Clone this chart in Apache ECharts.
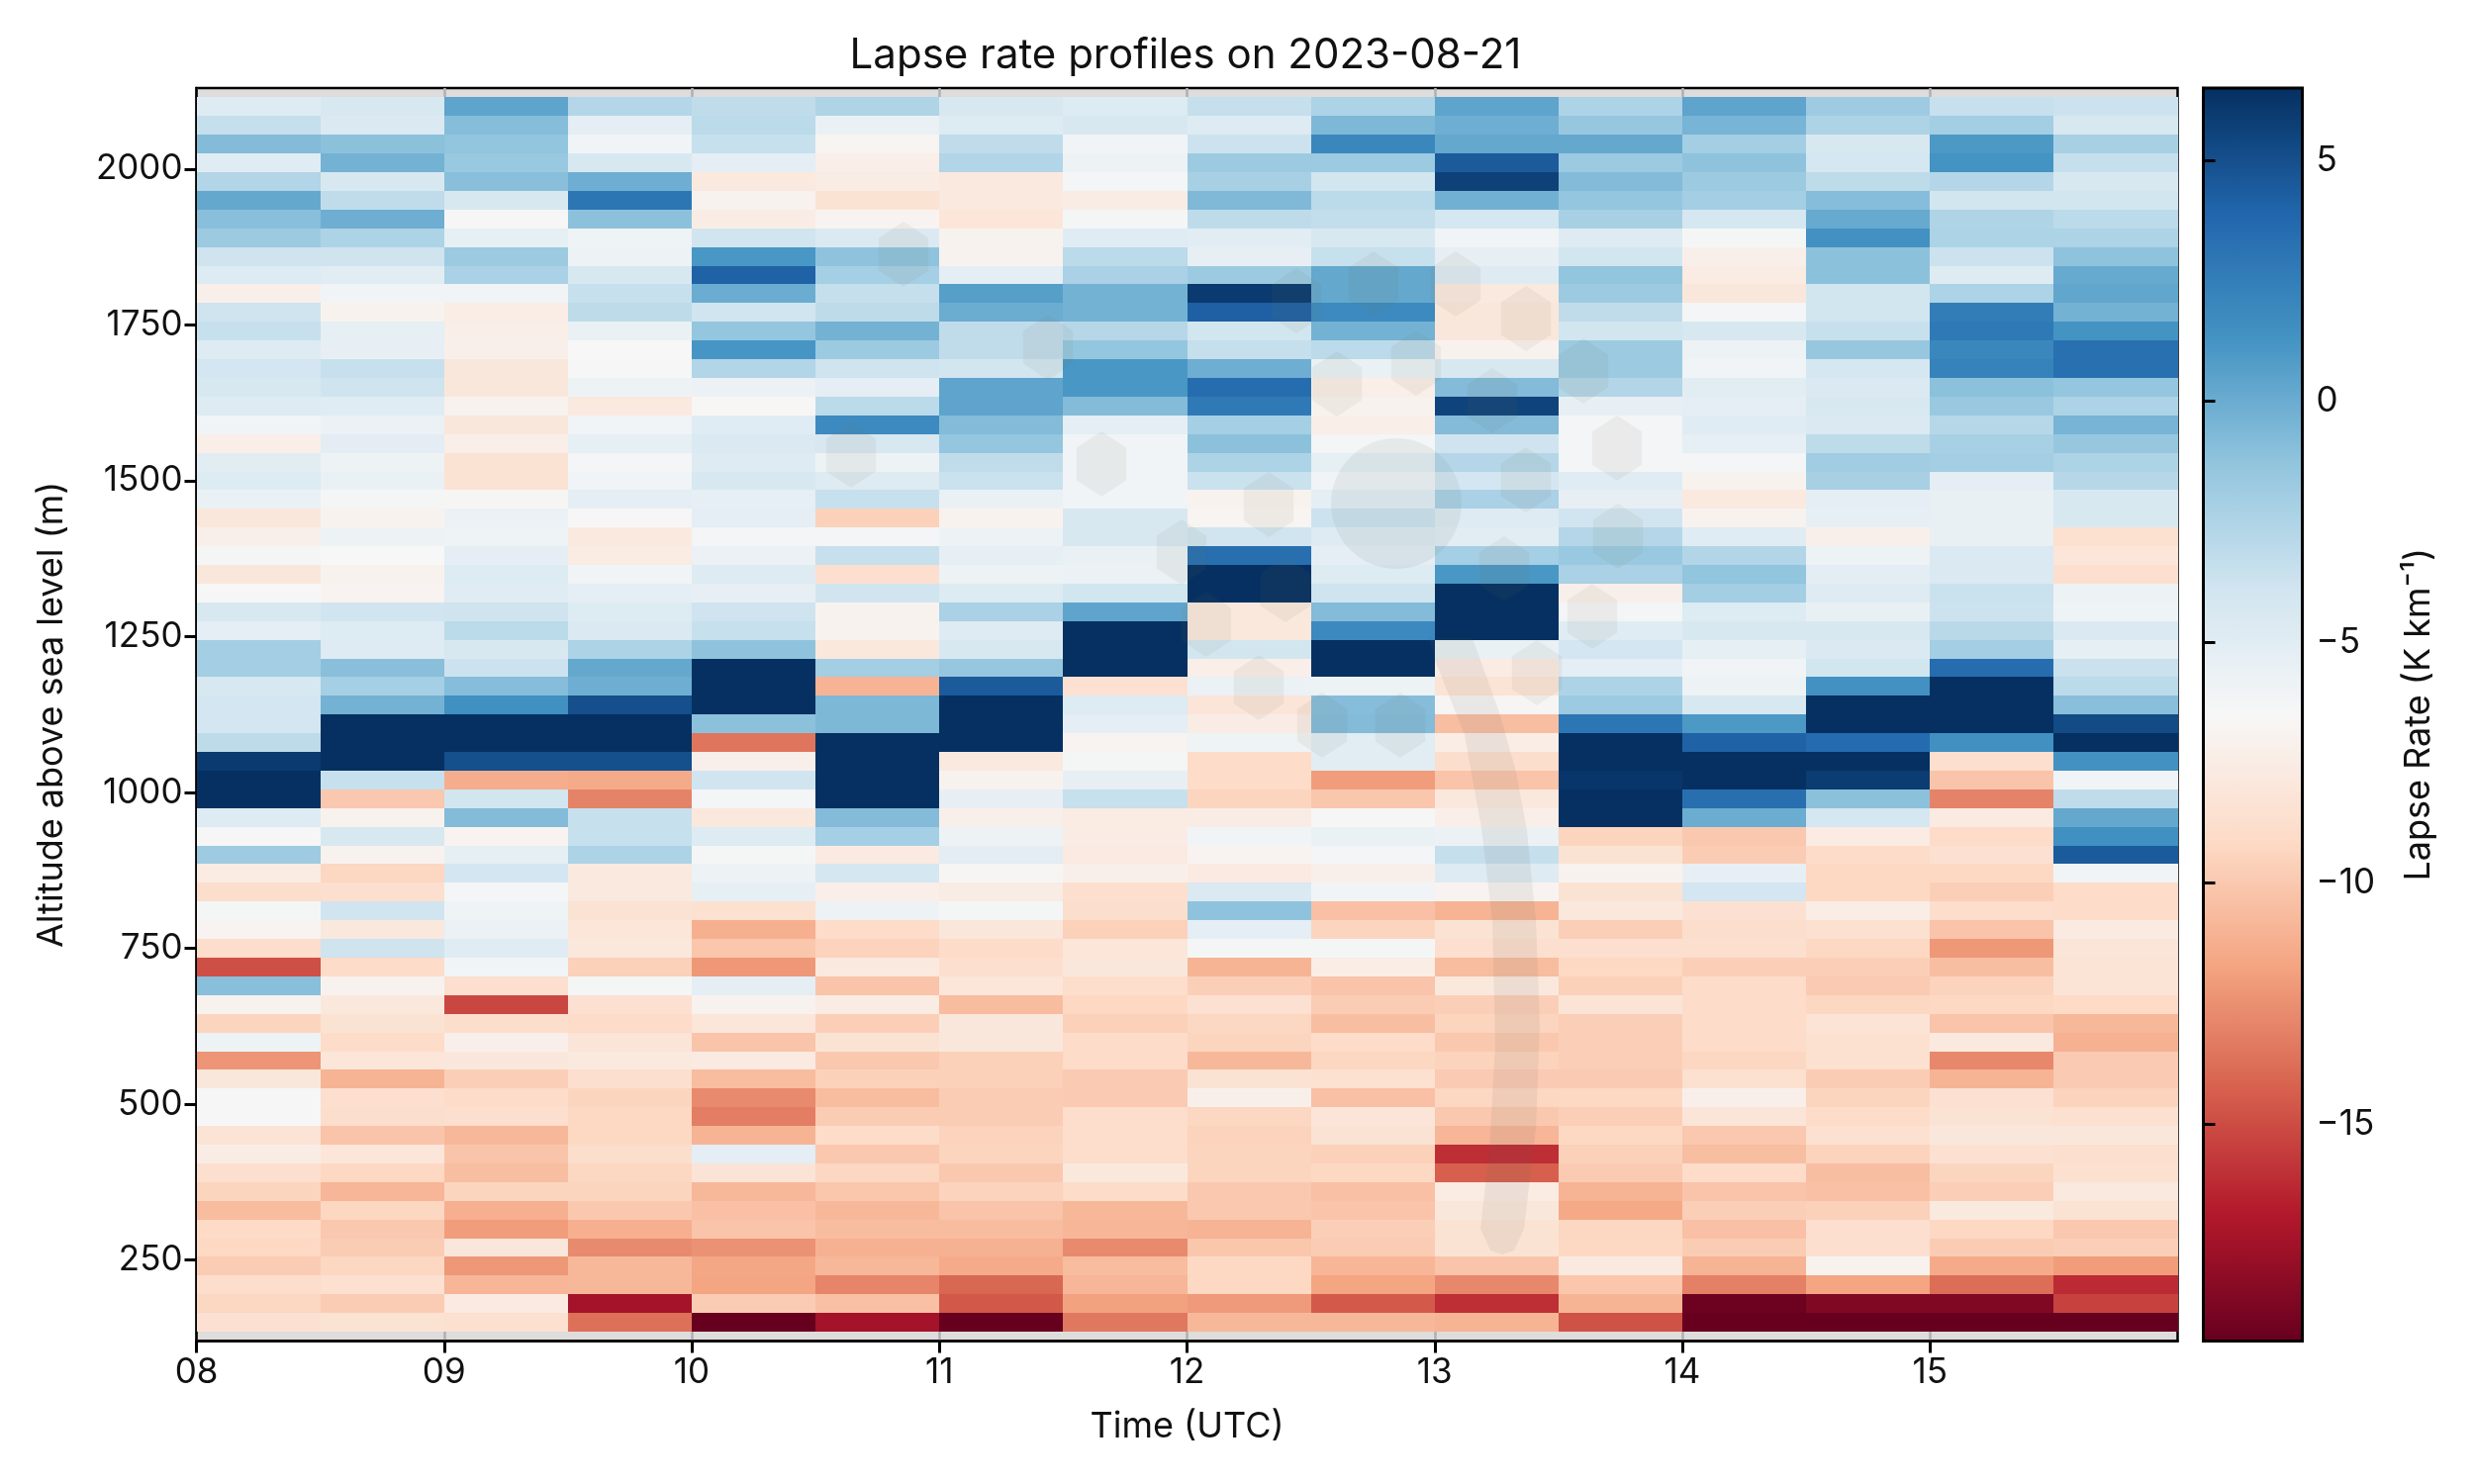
<!DOCTYPE html>
<html>
<head>
<meta charset="utf-8">
<style>html,body{margin:0;padding:0;background:#fff}#chart{width:2500px;height:1500px}</style>
<script src="https://cdn.jsdelivr.net/npm/echarts@6/dist/echarts.min.js"></script>
</head>
<body>
<div id="chart"></div>
<script>
const titleText = 'Lapse rate profiles on 2023-08-21';
const timeLabel = 'Time (UTC)';
const altitudeLabel = 'Altitude above sea level (m)';
const colorbarLabel = 'Lapse Rate (K km\u207B\u00B9)';
const timeStarts = [8,8.5,9,9.5,10,10.5,11,11.5,12,12.5,13,13.5,14,14.5,15,15.5];
const timeTicks = [8,9,10,11,12,13,14,15];
const altitudeTicks = [250,500,750,1000,1250,1500,1750,2000];
const colorbarTicks = [-15,-10,-5,0,5];
// RdBu palette, low to high
const palette = ['#67001f','#b2182b','#d6604d','#f4a582','#fddbc7','#f7f7f7','#d1e5f0','#92c5de','#4393c3','#2166ac','#053061'];
const valueMin = -19.5, valueMax = 6.5;
// altitude of each row's centre, top row first
const altitudes = [2100,2070,2040,2010,1980,1950,1920,1890,1860,1830,1800,1770,1740,1710,1680,1650,1620,1590,1560,1530,1500,1470,1440,1410,1380,1350,1320,1290,1260,1230,1200,1170,1140,1110,1080,1050,1020,990,960,930,900,870,840,810,780,750,720,690,660,630,600,570,540,510,480,450,420,390,360,330,300,270,240,210,180,150];
// lapse rate (K/km): one row per altitude, one value per half hour
const lapseRate = [
[-4.8,-4.4,0.4,-2.7,-3.2,-2.5,-4.4,-4.7,-3.4,-2.4,0.4,-2.4,0.4,-1.8,-3.5,-3.7],
[-3.4,-4.5,-0.9,-5.2,-3.0,-5.6,-4.7,-4.4,-4.8,-0.6,-0.1,-1.5,-0.4,-2.4,-2,-4.3],
[-0.8,-1.1,-1.3,-6.0,-3.5,-6.8,-3.2,-6.0,-3.7,2,0.2,0.2,-2,-4.4,1,-2.2],
[-4.9,-0.3,-1.6,-4.3,-5.2,-7.3,-2.6,-5.8,-1.7,-1.7,4.5,-1.7,-1.2,-4.2,1.3,-3.4],
[-2.6,-4.3,-1.0,-0.1,-7.8,-7.5,-7.8,-6.2,-2.2,-4,5.7,-0.8,-1.7,-3.1,-2.7,-4.3],
[0.2,-3.2,-4.3,3,-7,-8.4,-7.8,-7.5,-0.7,-3,-0.2,-1.4,-2,-0.9,-4,-4],
[-1,-0.1,-6.4,-1.1,-7.5,-6.9,-8.1,-6.3,-3.1,-3.3,-4.2,-2.2,-4.2,0.1,-2.5,-3],
[-1.7,-2.4,-5.3,-5.9,-3.9,-4.6,-7,-4.9,-5,-4.3,-6,-4.8,-6.3,1.4,-2.4,-2.4],
[-3.8,-3.8,-1.7,-5.8,1.1,-1.2,-7,-3,-5.4,-3.5,-5.4,-4,-7.2,-1.1,-3.7,-1.2],
[-4.7,-5,-2.3,-4.3,4.1,-2.1,-5.2,-2.3,-1.7,0.2,-4.8,-1.3,-7.6,-1.1,-4.8,0.1],
[-7.2,-6,-6.1,-3.5,0,-3.4,0.7,-0.3,6,0.2,-7.8,-1.7,-8,-4,-2.4,0.3],
[-3.8,-7,-7.4,-3.1,-3.9,-3.1,0,-0.3,4.2,1.8,-8,-3.2,-6.2,-4,2.6,-0.3],
[-3.5,-5.3,-7.3,-5.6,-1.4,-0.3,-3.2,-2.8,-4,-0.3,-8,-4,-4.4,-3.5,2.8,1.3],
[-4.8,-5.4,-7.2,-6.5,1.2,-1.7,-3.2,-1.4,-3.4,-3,-7,-1.7,-5.8,-1.5,2,3.3],
[-4.1,-3.5,-8,-6.4,-2.6,-3.8,-4,1.1,-0.1,-5.6,-4.4,-1.7,-6,-4.2,2.3,3.3],
[-4.4,-3.8,-8,-5.8,-5.7,-5.2,0.4,1.1,3.5,-7.3,-0.8,-2.6,-5,-4.6,-1.1,-1.4],
[-4.7,-4.9,-7,-7.8,-6.6,-3,0.4,-0.8,2.8,-7,5.6,-5.4,-5.2,-4.4,-1.6,-2.4],
[-6.1,-5.7,-8,-6,-4.9,1.8,-0.8,-5.2,-2.1,-7.3,-0.8,-6.2,-4.9,-4.5,-2.8,-0.4],
[-7.3,-5.1,-7.3,-5.3,-4.5,-4.3,-1.4,-6,-1.1,-6.2,-3.8,-6.2,-5.3,-3.1,-2.2,-1.5],
[-5,-5.8,-8.4,-6.2,-4.8,-5.8,-3.2,-6,-2.4,-5.3,-2.7,-6.2,-6.2,-1.9,-2,-2.4],
[-4.7,-5.6,-8.4,-6,-4.3,-4.8,-3.6,-6,-3.6,-6,-4.1,-4.9,-7,-2.2,-5.2,-2.8],
[-5.6,-6.3,-6.7,-5.2,-5.3,-3.5,-5.6,-6,-7,-5.2,-2.3,-5.4,-7.8,-5.2,-5.5,-4.4],
[-8,-7,-5.7,-6.4,-5.2,-9.6,-7,-4.4,-6.8,-3.7,-4.8,-3.9,-7,-5.3,-5.5,-4.4],
[-7.2,-5.8,-5.9,-7.8,-6.2,-6.2,-5.8,-4.4,-3.9,-4.8,-5,-2.7,-4.9,-7.2,-5.5,-8.6],
[-6.3,-6.5,-5.2,-7.6,-5.7,-3.5,-5.3,-5.6,3.4,-5.2,-2.1,-1.6,-2.6,-5.8,-4.5,-8.1],
[-8,-7,-4.7,-6.1,-4.8,-8.7,-5.8,-5.7,6.5,-4.7,1.1,-2.3,-1.3,-5.1,-4.5,-8.7],
[-6.4,-6.9,-4.9,-5.2,-5.4,-3.9,-4.7,-4,6.5,-3.8,6.5,-7.2,-2,-4.8,-3.6,-5.8],
[-4.4,-3.9,-3.8,-4.7,-3.8,-7,-2.3,0.4,-7.9,-0.8,6.5,-6.2,-4.7,-5.5,-3.7,-5.9],
[-5.2,-4.7,-3,-4.5,-3.5,-7,-4.8,6.5,-7.9,1.9,6.5,-4.9,-4.3,-4.3,-2.9,-4.6],
[-2,-4.8,-4.4,-2.4,-1.2,-7.9,-4.4,6.5,-4,6.5,-5.6,-4.1,-5.3,-4.6,-2,-5.3],
[-2,-1,-3.7,0.2,6.5,-2,-1.5,6.5,-7.3,6.5,-7.6,-5.2,-6,-4,3.5,-3.6],
[-4.3,-2.1,-0.9,-0.1,6.5,-11,4.5,-8.5,-5.7,-5.8,-8.3,-2.4,-5.8,1.4,6.5,-3],
[-4.1,-0.3,1.5,5,6.5,-0.6,6.5,-4.7,-8.2,-0.9,-6.7,-1.7,-4.3,6.5,6.5,-1],
[-4.1,6.5,6.5,6.5,-1.1,-0.6,6.5,-5.2,-7.5,-0.8,-10.5,3,1,6.5,6.5,5.2],
[-3.1,6.5,6.5,6.5,-13.5,6.5,6.5,-6.9,-5.9,-5,-7.4,6.5,4.1,3.6,1.5,6.5],
[6,6.5,5,5,-7.2,6.5,-7.8,-6.3,-9,-5,-8.8,6.5,6.5,6.5,-8.7,1.4],
[6.5,-3.5,-11.3,-11.4,-3.9,6.5,-7,-5.4,-9,-12,-10.2,6.2,6.5,5.9,-10.2,-6],
[6.5,-10,-4,-13,-6.2,6.5,-5.4,-3.5,-9.4,-10.1,-7.9,6.5,3.4,-1.1,-13,-3.2],
[-4.7,-7,-0.8,-3.5,-7.9,-0.8,-7.2,-7.6,-7.5,-6.4,-7.3,6.5,0,-4.2,-7.7,0.2],
[-6.4,-4.4,-6.9,-3.5,-4.7,-2.1,-5.8,-7.5,-6.1,-5.6,-5.7,-9.4,-10,-7.6,-9,1.5],
[-1.8,-7,-5.3,-2.4,-6.3,-7.7,-5.1,-7.7,-6.9,-6.2,-3.4,-8.4,-9.8,-9,-8.5,4.5],
[-7.6,-9.3,-4.1,-7.8,-5.8,-4.2,-6.7,-7.2,-7.7,-7.2,-4.8,-7,-5.4,-9.2,-9.2,-6],
[-8.8,-8.7,-6.2,-7.8,-5.3,-7.3,-7.5,-8.7,-4.5,-6,-6.9,-8.4,-4.1,-9.2,-9.7,-9],
[-6.3,-3.9,-5.9,-8.4,-8.6,-5.8,-6.3,-8.8,-1.2,-10.4,-11,-7.9,-8.5,-7.4,-8.9,-9],
[-6.9,-7.9,-5.7,-8.1,-11.2,-9,-8,-9.6,-5.2,-9.4,-8.4,-9.7,-8.8,-8.6,-10.2,-7.7],
[-8.9,-3.8,-4.9,-7.9,-10.1,-9.5,-9,-8.1,-6.3,-6.3,-8.7,-8.7,-8.7,-9.2,-12.2,-8.2],
[-14.9,-9,-6.1,-9.6,-12.2,-7.8,-8.7,-8,-11,-7.4,-10.6,-9.2,-9.7,-9.7,-10.5,-8.3],
[-1,-7,-8.7,-6.3,-5.2,-10.2,-8.1,-8.9,-9.7,-10.2,-7.9,-9.6,-9,-9.9,-9.5,-8.3],
[-7,-7.9,-15.2,-8.5,-7,-7.6,-10.6,-9.2,-8.5,-9.8,-9.7,-8.3,-9,-9.3,-9.2,-9.1],
[-9.4,-8.4,-8.8,-9,-8.1,-9.7,-8,-9.6,-9.3,-10.5,-9.4,-9.7,-9,-8.3,-10.2,-10.8],
[-5.8,-9,-7.2,-8.2,-10.2,-8.4,-8,-9,-9.4,-9,-10,-9.7,-9,-8.6,-7.8,-11.1],
[-12.3,-8.1,-8,-7.8,-7.7,-10,-9.6,-9,-10.8,-9.3,-9.5,-9.7,-9.3,-8.6,-12.8,-9.9],
[-8,-11,-9.7,-8.7,-10.6,-9.6,-9.6,-9.9,-8.4,-8.6,-9.9,-9.9,-8.6,-9.8,-11,-9.9],
[-6.4,-8.7,-9,-9.4,-12.7,-10.6,-9.8,-9.9,-7.2,-10.4,-9.3,-9.2,-7.2,-9.4,-8.5,-9.5],
[-6.4,-8.8,-8.7,-9.2,-13.2,-9.8,-9.8,-8.9,-9.3,-8.2,-10,-9.7,-8.2,-9,-8.4,-8.6],
[-8.3,-10.2,-10.8,-9.2,-11,-9,-9.5,-8.9,-9.5,-8.4,-10.9,-9.2,-10,-8.6,-8,-8],
[-7.5,-8.1,-10.2,-8.8,-5.2,-10,-9.4,-8.9,-9.4,-9.6,-16.1,-9.6,-10.5,-9.5,-8.5,-8.7],
[-8.7,-9.2,-10.5,-9.3,-8.3,-9.3,-10,-7.9,-9.4,-9.2,-14.3,-9.9,-9,-10.5,-9.4,-8.6],
[-9.4,-10.9,-9.4,-9.4,-10.8,-10.1,-9.5,-9,-10,-10.4,-7.6,-11,-10.2,-10.4,-9.7,-7.8],
[-10.6,-9.3,-11.2,-10,-10.4,-10.8,-10.2,-10.8,-10,-10.2,-8,-11.5,-9.7,-9.6,-7.8,-8.4],
[-9.1,-10,-12,-11.2,-10.2,-10.6,-10.6,-10.9,-11,-9.7,-8.4,-9.3,-10.4,-8.7,-9.2,-10],
[-9.2,-9.8,-8,-12.7,-12.4,-11.1,-11.1,-12.7,-10.1,-9.8,-8.4,-9.2,-9.8,-8.7,-9.8,-9.7],
[-9.8,-9.3,-12.2,-10.8,-11.6,-10.8,-11.4,-10.6,-9.2,-10.9,-10.2,-7.8,-11,-7,-11.4,-12],
[-8.9,-8.6,-10.9,-10.8,-11.7,-12.9,-14,-10.9,-9.2,-11.7,-12.8,-10.1,-13.1,-11.7,-13.8,-16.2],
[-9.3,-9.8,-7.7,-17.4,-9.8,-10.4,-14.6,-11.8,-12.1,-14.5,-16.1,-11,-19.3,-18.6,-18.6,-15.4],
[-8.5,-8.4,-8.6,-13.7,-19.5,-17.4,-19.5,-13.4,-10.8,-10.8,-11,-14.8,-19.5,-19.5,-19.5,-19.5]
];
const cells = [];
altitudes.forEach((alt, r) => timeStarts.forEach((t, c) => cells.push([t, alt, lapseRate[r][c]])));

// faint hexagon-and-stroke watermark lying over the plot
const hexCentres = [[913,257],[1059,351],[860,460],[1113,469],[1194,558],[1282,510],[1219,631],[1272,695],[1336,733],[1415,733],[1310,304],[1388,287],[1471,287],[1542,322],[1431,367],[1351,388],[1600,375],[1508,405],[1634,453],[1542,485],[1635,542],[1520,575],[1299,596],[1609,623],[1553,680]];
const hexR = 33;
function hexPoints(c){
  const pts = [];
  for (let i = 0; i < 6; i++) { const a = Math.PI/3*i - Math.PI/2; pts.push([c[0] + hexR*0.88*Math.cos(a), c[1] + hexR*Math.sin(a)]); }
  return pts;
}
const strokeOutline = [[1444,645],[1488,645],[1515,720],[1532,780],[1543,840],[1552,930],[1556,1036],[1552,1141],[1540,1242],[1530,1264],[1518,1268],[1506,1264],[1496,1242],[1505,1162],[1511,1057],[1508,930],[1497,837],[1480,743],[1450,667]];
const watermark = hexCentres.map(c => ({type:'polygon', z:50, silent:true, shape:{points:hexPoints(c)}, style:{fill:'rgba(110,115,90,0.08)'}}));
watermark.push({type:'circle', z:50, silent:true, shape:{cx:1411,cy:509,r:66}, style:{fill:'rgba(110,125,125,0.10)'}});
watermark.push({type:'polygon', z:50, silent:true, shape:{points:strokeOutline}, style:{fill:'rgba(105,105,90,0.09)'}});

const fontFamily = 'Inter';
const ink = '#111';
const tickFont = 35, nameFont = 36;
const chart = echarts.init(document.getElementById('chart'), null, {width:2500, height:1500, renderer:'canvas'});
chart.setOption({
  animation:false,
  backgroundColor:'#fff',
  textStyle:{fontFamily:fontFamily},
  title:{text:titleText, left:1193, top:30, textAlign:'center', textStyle:{fontFamily:fontFamily,fontSize:42,fontWeight:'normal',color:ink}},
  grid:[
    {left:198.5, top:89, width:2002, height:1266.5, show:true, backgroundColor:'#dfdcdc', borderColor:'#000', borderWidth:2.5, z:0, containLabel:false},
    {left:2226.5, top:89, width:100, height:1266.5, show:true, backgroundColor:'transparent', borderColor:'#000', borderWidth:3, z:20, containLabel:false}
  ],
  xAxis:[
    {type:'value', gridIndex:0, min:8, max:16, name:timeLabel, nameLocation:'middle', nameGap:69,
     nameTextStyle:{fontFamily:fontFamily,fontSize:nameFont,color:ink},
     axisLine:{show:true,onZero:false,lineStyle:{color:'#000',width:2.5}},
     axisTick:{show:true,length:12,customValues:timeTicks,lineStyle:{color:'#000',width:3}},
     axisLabel:{show:true,margin:14,fontSize:tickFont,color:ink,fontFamily:fontFamily,customValues:timeTicks,formatter:v=>String(v).padStart(2,'0')},
     splitLine:{show:true,lineStyle:{color:'#b0b0b0',width:2.5}}},
    {type:'value', gridIndex:1, min:0, max:1, show:false}
  ],
  yAxis:[
    {type:'value', gridIndex:0, min:120, max:2130, name:altitudeLabel, nameLocation:'middle', nameGap:128, nameRotate:90,
     nameTextStyle:{fontFamily:fontFamily,fontSize:nameFont,color:ink},
     axisLine:{show:true,onZero:false,lineStyle:{color:'#000',width:2.5}},
     axisTick:{show:true,length:12,customValues:altitudeTicks,lineStyle:{color:'#000',width:3}},
     axisLabel:{show:true,margin:14,fontSize:tickFont,color:ink,fontFamily:fontFamily,customValues:altitudeTicks,padding:[4,0,0,0],formatter:v=>String(v)},
     splitLine:{show:false}},
    {type:'value', gridIndex:1, position:'right', min:valueMin, max:valueMax, z:21, name:colorbarLabel, nameLocation:'middle', nameGap:100, nameRotate:90,
     nameTextStyle:{fontFamily:fontFamily,fontSize:nameFont,color:ink},
     axisLine:{show:true,lineStyle:{color:'#000',width:2.5}},
     axisTick:{show:true,length:12,customValues:colorbarTicks,lineStyle:{color:'#000',width:3}},
     axisLabel:{show:true,margin:14,fontSize:tickFont,color:ink,fontFamily:fontFamily,customValues:colorbarTicks,padding:[4,0,0,0],formatter:v=>String(v).replace('-','\u2212')},
     splitLine:{show:false}}
  ],
  visualMap:[{
    type:'continuous', seriesIndex:0, dimension:2, min:valueMin, max:valueMax,
    inRange:{color:palette}, calculable:false, realtime:false, hoverLink:false,
    orient:'vertical', left:2226.5, top:89, itemWidth:100, itemHeight:1266.5, padding:0, text:null, showLabel:false, z:10,
    indicatorSize:0, borderWidth:0
  }],
  graphic:{elements:watermark},
  series:[{
    type:'custom', xAxisIndex:0, yAxisIndex:0, coordinateSystem:'cartesian2d', data:cells, encode:{x:0,y:1}, z:2, silent:true,
    renderItem:function(params, api){
      const t = api.value(0), alt = api.value(1);
      const a = api.coord([t, alt+15]), b = api.coord([t+0.5, alt-15]);
      const x0 = Math.round(a[0]), x1 = Math.round(b[0]), y0 = Math.round(a[1]), y1 = Math.round(b[1]);
      return {type:'rect', shape:{x:x0,y:y0,width:x1-x0,height:y1-y0}, style:{fill:api.visual('color')}};
    }
  }]
});
</script>
</body>
</html>
